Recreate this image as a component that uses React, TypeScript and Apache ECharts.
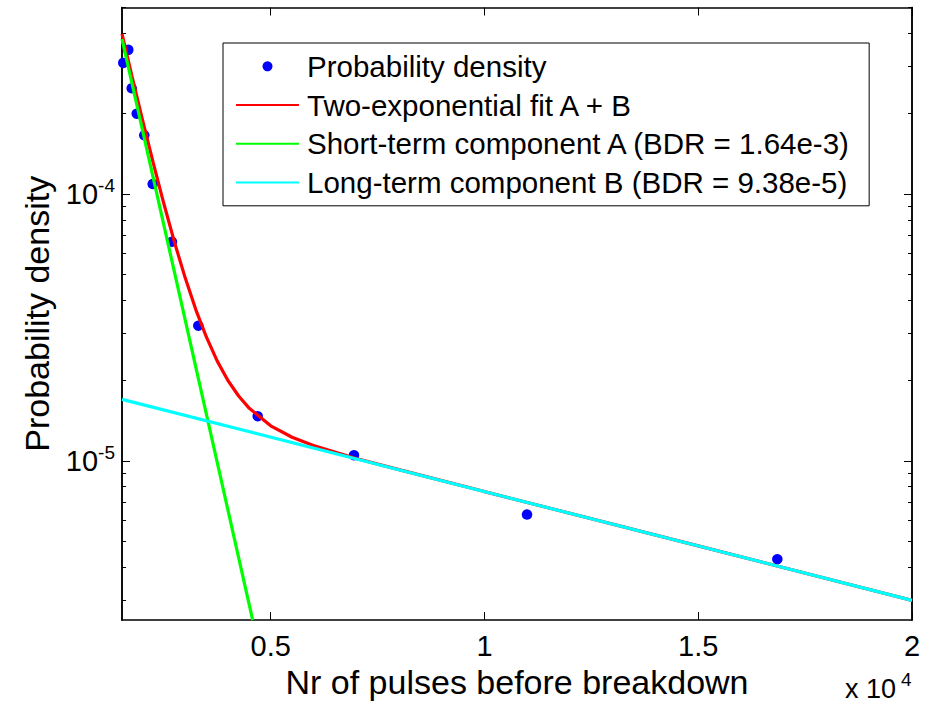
import React, { useEffect, useRef } from 'react';
import * as echarts from 'echarts';

// Measured data points (probability density vs. number of pulses)
const pulsesX = [1552, 1669, 1749, 1866, 2043, 2240, 2691, 3307, 4696, 6948, 10995, 16850];
const densityY = [3.10e-4, 3.47e-4, 2.49e-4, 2.0e-4, 1.66e-4, 1.09e-4, 6.62e-5, 3.21e-5, 1.47e-5, 1.05e-5, 6.29e-6, 4.28e-6];

// Two-exponential fit A + B
const fitX = [1522, 1750, 2000, 2250, 2500, 2750, 3000, 3250, 3500, 3750, 4000, 4250, 4500, 5000, 5500, 6000, 7000, 8000, 10000, 15000, 20000];
const fitY = [3.98e-4, 2.786e-4, 1.9e-4, 1.313e-4, 9.21e-5, 6.59e-5, 4.85e-5, 3.68e-5, 2.9e-5, 2.364e-5, 2.0e-5, 1.75e-5, 1.573e-5, 1.353e-5, 1.226e-5, 1.141e-5, 1.021e-5, 9.27e-6, 7.67e-6, 4.8e-6, 3.0e-6];

// Short-term component A (green)
const shortX = [1522, 4579];
const shortY = [3.81e-4, 2.53e-6];

// Long-term component B (cyan)
const longX = [1522, 20000];
const longY = [1.7e-5, 3.0e-6];

const seriesNames = [
  'Probability density',
  'Two-exponential fit A + B',
  'Short-term component A (BDR = 1.64e-3)',
  'Long-term component B (BDR = 9.38e-5)',
];

const xMin = 1522;
const xMax = 20000;
const yMin = 2.53e-6;
const yMax = 5e-4;
const xTicks = [5000, 10000, 15000, 20000];
const yMajorTicks = [1e-5, 1e-4];
const yMinorTicks = [3e-6, 4e-6, 5e-6, 6e-6, 7e-6, 8e-6, 9e-6, 2e-5, 3e-5, 4e-5, 5e-5, 6e-5, 7e-5, 8e-5, 9e-5, 2e-4, 3e-4, 4e-4, 5e-4];

const FONT = '"Liberation Sans", Arial, Helvetica, sans-serif';

function zip(xs: number[], ys: number[]) {
  return xs.map((x, i) => [x, ys[i]]);
}

export default function App() {
  const ref = useRef<HTMLDivElement>(null);
  useEffect(() => {
    if (!ref.current) return;
    const chart = echarts.init(ref.current, undefined, { renderer: 'svg' });
    const axisLine = { show: true, lineStyle: { color: '#000', width: 1.5 } };
    const yBase = {
      type: 'log' as const,
      logBase: 10,
      min: yMin,
      max: yMax,
      splitLine: { show: false },
      axisLine,
    };
    const xBase = {
      type: 'value' as const,
      min: xMin,
      max: xMax,
      splitLine: { show: false },
      axisLine,
    };
    const hiddenDot = { opacity: 0, borderWidth: 0 };
    chart.setOption({
      animation: false,
      backgroundColor: '#fff',
      grid: { left: 122, right: 20, top: 7.5, bottom: 83, containLabel: false },
      xAxis: [
        {
          ...xBase,
          position: 'bottom',
          name: 'Nr of pulses before breakdown',
          nameLocation: 'middle',
          nameGap: 42,
          nameTextStyle: { fontFamily: FONT, fontSize: 34, color: '#000' },
          axisTick: { show: true, inside: true, length: 8, customValues: xTicks, lineStyle: { color: '#000', width: 1 } },
          axisLabel: {
            show: true,
            customValues: xTicks,
            margin: 11,
            fontFamily: FONT,
            fontSize: 29,
            color: '#000',
            formatter: (v: number) => String(v / 10000),
          },
        },
        {
          ...xBase,
          position: 'top',
          axisTick: { show: true, inside: true, length: 8, customValues: xTicks, lineStyle: { color: '#000', width: 1 } },
          axisLabel: { show: false },
        },
      ],
      yAxis: [
        {
          ...yBase,
          position: 'left',
          name: 'Probability density',
          nameLocation: 'middle',
          nameGap: 68,
          nameTextStyle: { fontFamily: FONT, fontSize: 34, color: '#000' },
          axisTick: { show: true, inside: true, length: 8, customValues: yMajorTicks, lineStyle: { color: '#000', width: 1 } },
          axisLabel: {
            show: true,
            customValues: yMajorTicks,
            margin: 7,
            color: '#000',
            formatter: (v: number) => `{b|10}{s|${Math.round(Math.log10(v))}}`,
            rich: {
              b: { fontFamily: FONT, fontSize: 29, lineHeight: 36, color: '#000' },
              s: { fontFamily: FONT, fontSize: 19, lineHeight: 14, verticalAlign: 'top', color: '#000' },
            },
          },
        },
        {
          ...yBase,
          position: 'left',
          axisTick: { show: true, inside: true, length: 4, customValues: yMinorTicks, lineStyle: { color: '#000', width: 1 } },
          axisLabel: { show: false },
        },
        {
          ...yBase,
          position: 'right',
          axisTick: { show: true, inside: true, length: 8, customValues: yMajorTicks, lineStyle: { color: '#000', width: 1 } },
          axisLabel: { show: false },
        },
        {
          ...yBase,
          position: 'right',
          axisTick: { show: true, inside: true, length: 4, customValues: yMinorTicks, lineStyle: { color: '#000', width: 1 } },
          axisLabel: { show: false },
        },
      ],
      legend: {
        show: true,
        orient: 'vertical',
        left: 223,
        top: 43,
        padding: [4, 17, 4, 12],
        itemGap: 0,
        itemWidth: 63,
        itemHeight: 10,
        borderColor: '#000',
        borderWidth: 1,
        backgroundColor: '#fff',
        borderRadius: 0,
        textStyle: { fontFamily: FONT, fontSize: 29.5, color: '#000', lineHeight: 38.7, padding: [0, 0, 0, 3] },
        data: [
          { name: seriesNames[0] },
          { name: seriesNames[1], itemStyle: hiddenDot },
          { name: seriesNames[2], itemStyle: hiddenDot },
          { name: seriesNames[3], itemStyle: hiddenDot },
        ],
      },
      graphic: [
        {
          type: 'text',
          style: { text: 'x 10', x: 845, y: 689, font: `27px ${FONT}`, fill: '#000', textVerticalAlign: 'middle' },
        },
        {
          type: 'text',
          style: { text: '4', x: 901, y: 679, font: `19px ${FONT}`, fill: '#000', textVerticalAlign: 'middle' },
        },
      ],
      series: [
        {
          name: seriesNames[0],
          type: 'scatter',
          xAxisIndex: 0,
          yAxisIndex: 0,
          symbol: 'circle',
          symbolSize: 10.5,
          itemStyle: { color: '#0000ff', opacity: 1 },
          data: zip(pulsesX, densityY),
          z: 2,
        },
        {
          name: seriesNames[1],
          type: 'line',
          xAxisIndex: 0,
          yAxisIndex: 0,
          symbol: 'none',
          showSymbol: false,
          lineStyle: { color: '#ff0000', width: 3.2 },
          itemStyle: { color: '#ff0000' },
          data: zip(fitX, fitY),
          z: 3,
        },
        {
          name: seriesNames[2],
          type: 'line',
          xAxisIndex: 0,
          yAxisIndex: 0,
          symbol: 'none',
          showSymbol: false,
          lineStyle: { color: '#00ff00', width: 3.2 },
          itemStyle: { color: '#00ff00' },
          data: zip(shortX, shortY),
          z: 4,
        },
        {
          name: seriesNames[3],
          type: 'line',
          xAxisIndex: 0,
          yAxisIndex: 0,
          symbol: 'none',
          showSymbol: false,
          lineStyle: { color: '#00ffff', width: 3.2 },
          itemStyle: { color: '#00ffff' },
          data: zip(longX, longY),
          z: 5,
        },
      ],
    });
    return () => chart.dispose();
  }, []);
  return (
    <div
      ref={ref}
      style={{ position: 'absolute', left: 0, top: 0, width: 932, height: 704, background: '#fff' }}
    />
  );
}
